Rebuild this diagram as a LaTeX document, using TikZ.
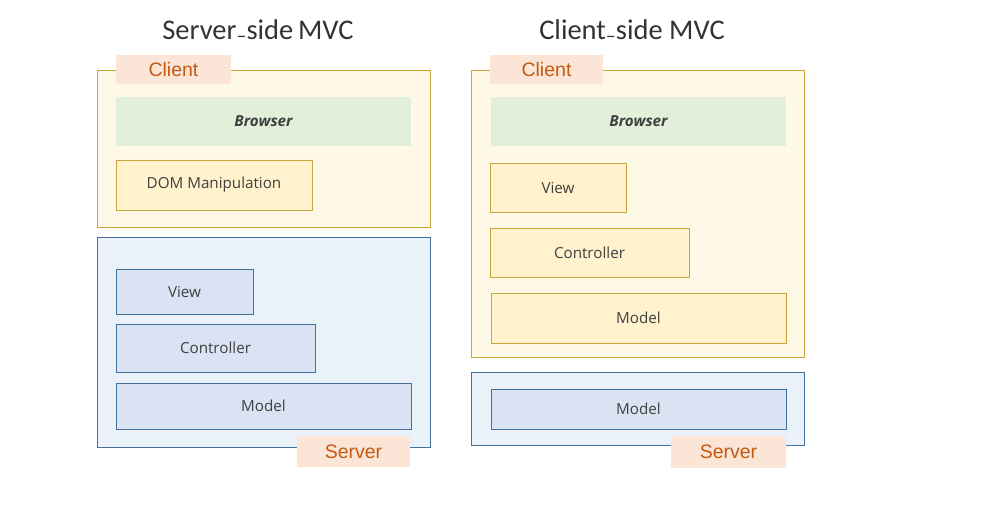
\documentclass[tikz,border=0pt]{standalone}
\usepackage{fontspec}
\setmainfont{Carlito}
\newfontfamily\tabfont{Liberation Sans}
\newfontfamily\boxfont{Open Sans}
\usetikzlibrary{positioning}
\definecolor{clientfill}{RGB}{254, 248, 230}
\definecolor{clientline}{RGB}{201, 165, 58}
\definecolor{tabfill}{RGB}{251, 229, 214}
\definecolor{tabtext}{RGB}{197, 90, 17}
\definecolor{browserfill}{RGB}{226, 239, 218}
\definecolor{yellowfill}{RGB}{255, 242, 204}
\definecolor{serverfill}{RGB}{235, 241, 249}
\definecolor{serverline}{RGB}{65, 113, 156}
\definecolor{bluefill}{RGB}{218, 227, 243}
\definecolor{labeltext}{RGB}{64, 64, 64}

\tikzset{
  outerclient/.style={draw=clientline, fill=clientfill, inner sep=0pt},
  outerserver/.style={draw=serverline, fill=serverfill, inner sep=0pt},
  tablabel/.style={fill=tabfill, text=tabtext, inner sep=0pt, font=\tabfont\fontsize{19.5}{21}\selectfont},
  browserbox/.style={fill=browserfill, text=labeltext, inner sep=0pt, font=\boxfont\fontsize{15.2}{17}\selectfont\bfseries\itshape},
  yellowbox/.style={draw=clientline, fill=yellowfill, text=labeltext, inner sep=0pt, font=\boxfont\fontsize{15.2}{17}\selectfont},
  bluebox/.style={draw=serverline, fill=bluefill, text=labeltext, inner sep=0pt, font=\boxfont\fontsize{15.2}{17}\selectfont},
  titlelabel/.style={text=labeltext!80!black, font=\fontsize{28.5}{32}\selectfont}
}
\newcommand{\lowdash}{\raisebox{-0.12em}{\fontsize{20}{20}\selectfont\textendash}}

\begin{document}
\begin{tikzpicture}[x=1pt, y=-1pt]
  \useasboundingbox (0,0) rectangle (998,507);

  % Server-side MVC
  \node[titlelabel] (sTitle) at (258, 31) {Server\lowdash side\,MVC};

  \node[outerclient, minimum width=333pt, minimum height=157pt] (sClient) at (263.5, 148.5) {};
  \node[tablabel, minimum width=115pt, minimum height=29pt] (sClientTab) at (173.5, 69.5) {Client};
  \node[browserbox, minimum width=295pt, minimum height=49pt] (sBrowser) at (263.5, 121.5) {Browser};
  \node[yellowbox, minimum width=196pt, minimum height=50pt] (sDom) at (214, 185) {DOM Manipulation};

  \node[outerserver, minimum width=333pt, minimum height=210pt] (sServer) at (263.5, 342) {};
  \node[bluebox, minimum width=137pt, minimum height=45pt] (sView) at (184.5, 291.5) {View};
  \node[bluebox, minimum width=199pt, minimum height=48pt] (sController) at (215.5, 348) {Controller};
  \node[bluebox, minimum width=295pt, minimum height=46pt] (sModel) at (263.5, 406) {Model};
  \node[tablabel, minimum width=113pt, minimum height=31pt] (sServerTab) at (353.5, 451.5) {Server};

  % Client-side MVC
  \node[titlelabel] (cTitle) at (632, 31) {Client\lowdash side MVC};

  \node[outerclient, minimum width=333pt, minimum height=287pt] (cClient) at (637.5, 213.5) {};
  \node[tablabel, minimum width=113pt, minimum height=29pt] (cClientTab) at (546.5, 69.5) {Client};
  \node[browserbox, minimum width=295pt, minimum height=49pt] (cBrowser) at (638.5, 121.5) {Browser};
  \node[yellowbox, minimum width=136pt, minimum height=49pt] (cView) at (558, 187.5) {View};
  \node[yellowbox, minimum width=199pt, minimum height=49pt] (cController) at (589.5, 252.5) {Controller};
  \node[yellowbox, minimum width=295pt, minimum height=50pt] (cModel) at (638.5, 318) {Model};

  \node[outerserver, minimum width=333pt, minimum height=73pt] (cServer) at (637.5, 408.5) {};
  \node[bluebox, minimum width=295pt, minimum height=40pt] (cServerModel) at (638.5, 409) {Model};
  \node[tablabel, minimum width=115pt, minimum height=32pt] (cServerTab) at (728.5, 452) {Server};
\end{tikzpicture}
\end{document}
